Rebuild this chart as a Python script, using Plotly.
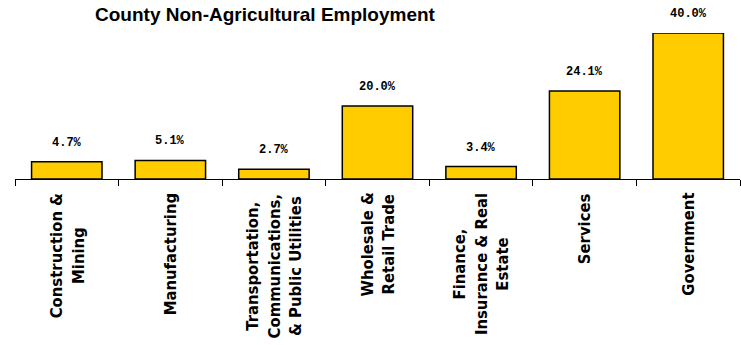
import plotly.graph_objects as go

categories = [
    "Construction &<br>Mining",
    "Manufacturing",
    "Transportation,<br>Communications,<br>& Public Utilities",
    "Wholesale &<br>Retail Trade",
    "Finance,<br>Insurance & Real<br>Estate",
    "Services",
    "Government",
]
values = [4.7, 5.1, 2.7, 20.0, 3.4, 24.1, 40.0]
value_labels = ["%.1f%%" % v for v in values]

fig = go.Figure()
fig.add_trace(go.Bar(
    x=categories, y=values,
    marker=dict(color="#FFCC00", line=dict(color="#000000", width=1.5)),
    cliponaxis=False, hoverinfo="skip",
))

annotations = []
for c, v, t in zip(categories, values, value_labels):
    annotations.append(dict(
        x=c, y=v, xref="x", yref="y", text=t, showarrow=False,
        yanchor="bottom", yshift=10,
        font=dict(family="Liberation Mono, Courier New, monospace", size=12, color="#000000", weight="bold"),
    ))
    annotations.append(dict(
        x=c, y=0, xref="x", yref="y", text=c, showarrow=False,
        yanchor="top", yshift=-12, textangle=-90, align="center",
        font=dict(family="DejaVu Sans Condensed, Liberation Sans Narrow, DejaVu Sans, sans-serif",
                  size=16.5, color="#000000", weight="bold"),
    ))

fig.update_layout(
    width=741, height=345,
    margin=dict(l=15, r=1, t=33, b=166),
    paper_bgcolor="white", plot_bgcolor="white",
    bargap=0.32,
    showlegend=False,
    title=dict(text="<b>County Non-Agricultural Employment</b>",
               x=265/741, xanchor="center", xref="container",
               y=1-14/345, yanchor="middle", yref="container",
               font=dict(family="Liberation Sans, Arial, sans-serif", size=19, color="#000000")),
    annotations=annotations,
)
fig.update_xaxes(showline=True, linecolor="#000000", linewidth=1,
                 ticks="outside", ticklen=6, tickcolor="#000000", tickson="boundaries",
                 showticklabels=False, showgrid=False)
fig.update_yaxes(range=[0, 40], visible=False, showgrid=False, zeroline=False)

fig.write_html("out.html", config={"displayModeBar": False, "staticPlot": True},
               post_script="document.body.style.margin='0';document.body.style.overflow='hidden';")
